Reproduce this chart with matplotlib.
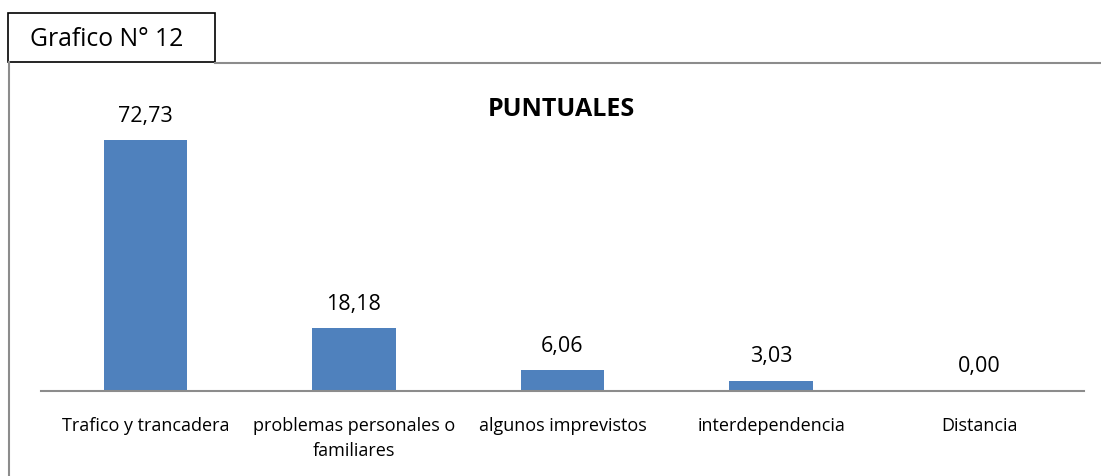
import matplotlib
matplotlib.use("Agg")
import matplotlib.pyplot as plt
from matplotlib.patches import Rectangle
from matplotlib.lines import Line2D

categories = ["Trafico y trancadera", "problemas personales o\nfamiliares",
              "algunos imprevistos", "interdependencia", "Distancia"]
values = [72.73, 18.18, 6.06, 3.03, 0.00]
value_labels = ["72,73", "18,18", "6,06", "3,03", "0,00"]

W, H = 1101, 477
fig = plt.figure(figsize=(W / 100, H / 100), dpi=100)
plt.rcParams["font.family"] = ["Open Sans", "DejaVu Sans"]


def fx(px):
    return px / W


def fy(py):
    return 1 - py / H


# outer frame lines (gray) and the caption box
fig.add_artist(Line2D([fx(215), fx(1101)], [fy(64), fy(64)], color="#8c8c8c", lw=1.5))
fig.add_artist(Line2D([fx(9), fx(9)], [fy(63), fy(477)], color="#8c8c8c", lw=1.5))
fig.add_artist(Rectangle((fx(8), fy(63)), fx(207), 49 / H, transform=fig.transFigure,
                         facecolor="white", edgecolor="black", lw=1.2))
fig.text(fx(30), fy(39), "Grafico N° 12", fontsize=17.8, va="center", ha="left")

# plot area: baseline y=392, x from 41 to 1084
ymax = 80
top_px = 392 - ymax * 3.45
ax = fig.add_axes([fx(41), fy(392), fx(1084 - 41), (392 - top_px) / H])
x = range(len(categories))
ax.bar(x, values, width=0.40, color="#4f81bd")
ax.set_xlim(-0.5, len(categories) - 0.5)
ax.set_ylim(0, ymax)
for xi, v, lab in zip(x, values, value_labels):
    ax.annotate(lab, (xi, v), xytext=(0, 18), textcoords="offset points",
                ha="center", va="center", fontsize=15.5)
ax.set_xticks(list(x))
ax.set_xticklabels(categories, fontsize=13, linespacing=1.5)
ax.tick_params(axis="x", length=0, pad=18)
ax.set_yticks([])
for s in ["top", "left", "right"]:
    ax.spines[s].set_visible(False)
ax.spines["bottom"].set_color("#8c8c8c")
ax.spines["bottom"].set_linewidth(1.5)

fig.text(fx(561), fy(110), "PUNTUALES", fontsize=18, fontweight="bold",
         ha="center", va="center")

fig.savefig("out.png", dpi=100)
